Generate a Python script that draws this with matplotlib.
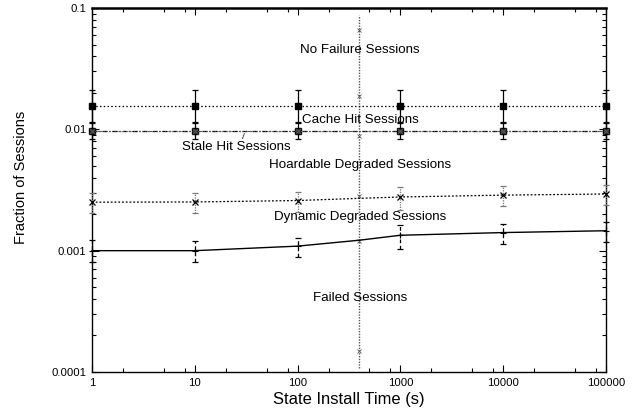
import matplotlib
matplotlib.use("Agg")
import matplotlib.pyplot as plt
from matplotlib.ticker import LogLocator, FixedLocator, FixedFormatter, NullFormatter

plt.rcParams['font.family'] = ['Liberation Sans', 'DejaVu Sans']

# ---- data ----
x_vals = [1, 10, 100, 400, 1000, 10000, 100000]

no_failure = [0.0155, 0.0155, 0.0155, 0.0155, 0.0155, 0.0155, 0.0155]
no_failure_lo = [0.0115, 0.0115, 0.0115, 0.0115, 0.0115, 0.0115, 0.0115]
no_failure_hi = [0.0211, 0.0211, 0.0211, 0.0211, 0.0211, 0.0211, 0.0211]

cache_hit = [0.0097, 0.0097, 0.0097, 0.0097, 0.0097, 0.0097, 0.0097]
cache_hit_lo = [0.0083, 0.0083, 0.0083, 0.0083, 0.0083, 0.0083, 0.0083]
cache_hit_hi = [0.0113, 0.0113, 0.0113, 0.0113, 0.0113, 0.0113, 0.0113]

stale_hit = [0.0097, 0.0097, 0.0097, 0.0097, 0.0097, 0.0097, 0.0097]

hoardable = [0.00251, 0.00252, 0.00259, 0.0027, 0.00277, 0.00287, 0.00293]
hoardable_lo = [0.00203, 0.00203, 0.00210, 0.0022, 0.00218, 0.00232, 0.00240]
hoardable_hi = [0.00296, 0.00296, 0.00302, 0.0032, 0.00334, 0.00340, 0.00345]

dynamic = [0.00100, 0.00100, 0.00109, 0.00122, 0.00134, 0.00141, 0.00146]
dynamic_lo = [0.00081, 0.00081, 0.00089, 0.00100, 0.00103, 0.00113, 0.00118]
dynamic_hi = [0.00122, 0.00121, 0.00128, 0.00145, 0.00163, 0.00167, 0.00172]

probe_x = 400
probe_range = [0.000107, 0.088]
probe_marks = [0.066, 0.019, 0.0088, 0.0028, 0.0012, 0.00015]

label_texts = ["No Failure Sessions", "Cache Hit Sessions", "Stale Hit Sessions",
               "Hoardable Degraded Sessions", "Dynamic Degraded Sessions", "Failed Sessions"]
label_x = [405, 405, 25.2, 405, 405, 405]
label_y = [0.0451, 0.01193, 0.00714, 0.00508, 0.00189, 0.000406]

x_ticks = [1, 10, 100, 1000, 10000, 100000]
x_ticklabels = ["1", "10", "100", "1000", "10000", "100000"]
y_ticks = [0.0001, 0.001, 0.01, 0.1]
y_ticklabels = ["0.0001", "0.001", "0.01", "0.1"]

# ---- figure ----
fig = plt.figure(figsize=(6.41, 4.15), dpi=100)
ax = fig.add_axes([0.1435, 0.1036, 0.9454 - 0.1435, 0.9807 - 0.1036])
ax.set_xscale('log')
ax.set_yscale('log')
ax.set_xlim(1, 100000)
ax.set_ylim(0.0001, 0.1)

mark_idx = [0, 1, 2, 4, 5, 6]

def errs(v, lo, hi):
    xs = [x_vals[i] for i in mark_idx]
    ys = [v[i] for i in mark_idx]
    el = [v[i] - lo[i] for i in mark_idx]
    eh = [hi[i] - v[i] for i in mark_idx]
    return xs, ys, [el, eh]

def draw_err(v, lo, hi, color, ls, lw=0.9):
    xs, ys, e = errs(v, lo, hi)
    res = ax.errorbar(xs, ys, yerr=e, fmt='none', ecolor=color, elinewidth=lw,
                      capsize=2.5, capthick=lw, zorder=3, clip_on=False)
    for lc in res[2]:
        lc.set_linestyle(ls)

# probe vertical line at x=400
ax.plot([probe_x, probe_x], probe_range, color='#555555', lw=1.0,
        linestyle=(0, (1, 1)), zorder=2)
ax.plot([probe_x] * len(probe_marks), probe_marks, linestyle='none', marker='x',
        ms=3, mew=0.6, color='#555555', zorder=2)

# No failure
draw_err(no_failure, no_failure_lo, no_failure_hi, 'black', '-')
ax.plot(x_vals, no_failure, color='black', lw=0.9, linestyle=(0, (1.2, 1.8)),
        marker='s', ms=5, markevery=mark_idx, zorder=4, clip_on=False)

# Cache hit
draw_err(cache_hit, cache_hit_lo, cache_hit_hi, 'black', '-')
ax.plot(x_vals, cache_hit, color='black', lw=0.9, linestyle=(0, (4, 1.5, 1, 1.5)),
        marker='s', ms=5, markevery=mark_idx, zorder=4, clip_on=False,
        markerfacecolor='#333333')
# Stale hit
ax.plot(x_vals, stale_hit, color='#555555', lw=0.8, linestyle=(0, (1, 1.5)),
        marker='x', ms=4, mew=0.7, markevery=mark_idx, zorder=5, clip_on=False)

# Hoardable degraded
draw_err(hoardable, hoardable_lo, hoardable_hi, '#777777', (0, (1, 1)))
ax.plot(x_vals, hoardable, color='black', lw=0.9, linestyle=(0, (1.5, 1.5)),
        marker='x', ms=4.5, mew=0.9, markevery=mark_idx, zorder=4, clip_on=False)

# Dynamic degraded
draw_err(dynamic, dynamic_lo, dynamic_hi, 'black', (0, (3, 2)))
ax.plot(x_vals, dynamic, color='black', lw=1.0, linestyle='-',
        marker='+', ms=4, mew=0.8, markevery=mark_idx, zorder=4, clip_on=False)

# labels
for t, lx, ly in zip(label_texts, label_x, label_y):
    ax.text(lx, ly, t, ha='center', va='center', fontsize=9.6, zorder=6)
ax.annotate("", xy=(31, 0.0097), xytext=(28.5, 0.0080),
            arrowprops=dict(arrowstyle='-', color='#444444', lw=0.8, linestyle=(0, (1, 1))))

# ticks
ax.xaxis.set_major_locator(FixedLocator(x_ticks))
ax.xaxis.set_major_formatter(FixedFormatter(x_ticklabels))
ax.xaxis.set_minor_locator(LogLocator(base=10, subs=[2, 5, 8], numticks=20))
ax.xaxis.set_minor_formatter(NullFormatter())
ax.yaxis.set_major_locator(FixedLocator(y_ticks))
ax.yaxis.set_major_formatter(FixedFormatter(y_ticklabels))
ax.yaxis.set_minor_locator(LogLocator(base=10, subs=[2, 3, 4, 5, 6, 7, 8, 9], numticks=20))
ax.yaxis.set_minor_formatter(NullFormatter())
ax.tick_params(which='both', direction='in', top=True, right=True, labelsize=8.2,
               width=0.8, pad=4)
ax.tick_params(which='major', length=5)
ax.tick_params(which='minor', length=3)

for s in ax.spines.values():
    s.set_linewidth(1.0)
ax.spines['top'].set_linewidth(1.8)

ax.set_xlabel("State Install Time (s)", fontsize=11.9, labelpad=3)
ax.set_ylabel("Fraction of Sessions", fontsize=10.5)
ax.yaxis.set_label_coords(-0.125, 0.535)

fig.savefig("out.png", dpi=100)
